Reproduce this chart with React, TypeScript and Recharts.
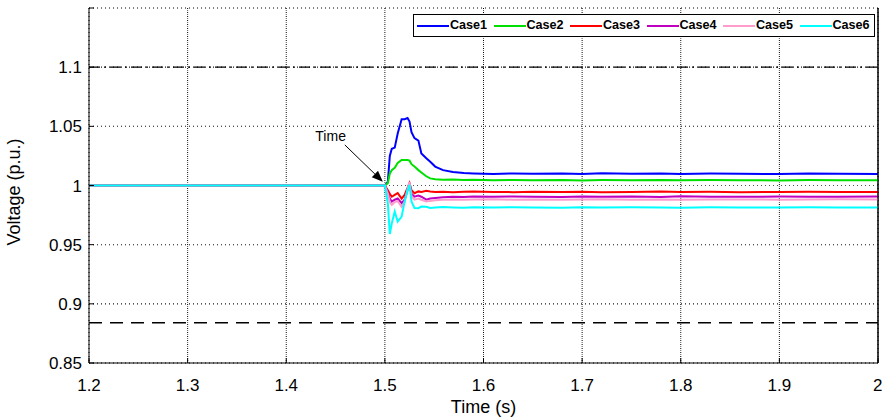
import {
  LineChart,
  Line,
  XAxis,
  YAxis,
  CartesianGrid,
  ReferenceLine,
  ReferenceDot,
} from "recharts";

const time = [
  1.2, 1.23, 1.26, 1.3, 1.33, 1.36, 1.4, 1.43, 1.46, 1.49, 1.5, 1.503, 1.505,
  1.507, 1.51, 1.513, 1.517, 1.52, 1.523, 1.525, 1.527, 1.53, 1.534, 1.537,
  1.542, 1.546, 1.551, 1.559, 1.569, 1.58, 1.59, 1.61, 1.63, 1.65, 1.68, 1.7,
  1.72, 1.75, 1.78, 1.8, 1.83, 1.86, 1.9, 1.93, 1.96, 2.0,
];

const case1 = [
  1.0, 1.0003, 1.0, 1.0002, 0.9999, 1.0002, 1.0, 1.0002, 1.0001, 1.0003, 1.0,
  1.003, 1.025, 1.031, 1.032, 1.044, 1.056, 1.056, 1.057, 1.054, 1.045, 1.04,
  1.038, 1.027, 1.023, 1.02, 1.016, 1.013, 1.0115, 1.0105, 1.0102, 1.0098,
  1.0102, 1.0099, 1.0101, 1.0097, 1.0103, 1.0099, 1.0101, 1.0098, 1.0101,
  1.0099, 1.0097, 1.0101, 1.0099, 1.0098,
];

const case2 = [
  1.0, 0.9999, 1.0002, 1.0, 1.0003, 1.0, 0.9999, 1.0002, 1.0, 1.0001, 1.0,
  1.002, 1.01, 1.013, 1.015, 1.019, 1.0215, 1.0216, 1.0216, 1.021, 1.018,
  1.016, 1.013, 1.011, 1.0078, 1.006, 1.0052, 1.0048, 1.005, 1.0046, 1.0048,
  1.0045, 1.0047, 1.0044, 1.0046, 1.0043, 1.0046, 1.0045, 1.0047, 1.0044,
  1.0046, 1.0045, 1.0043, 1.0046, 1.0044, 1.0045,
];

const case3 = [
  1.0, 1.0001, 0.9999, 1.0001, 1.0, 0.9999, 1.0001, 1.0, 1.0, 1.0001, 1.0,
  0.996, 0.993, 0.9905, 0.992, 0.9935, 0.989, 0.992, 0.998, 1.002, 0.996,
  0.9935, 0.995, 0.9945, 0.9955, 0.995, 0.9945, 0.9948, 0.9943, 0.9947, 0.995,
  0.9946, 0.9944, 0.9947, 0.9945, 0.9948, 0.9944, 0.9946, 0.9949, 0.9945,
  0.9947, 0.9944, 0.9946, 0.9948, 0.9945, 0.9946,
];

const case4 = [
  1.0, 1.0, 1.0001, 0.9999, 1.0, 1.0001, 1.0, 0.9999, 1.0001, 1.0, 1.0, 0.994,
  0.989, 0.9864, 0.988, 0.989, 0.985, 0.988, 0.996, 1.002, 0.993, 0.9906,
  0.9915, 0.9905, 0.988, 0.989, 0.9895, 0.99, 0.9905, 0.9903, 0.9906, 0.9904,
  0.9907, 0.9905, 0.9903, 0.9906, 0.9904, 0.9907, 0.9903, 0.9909, 0.9905,
  0.9904, 0.9906, 0.9905, 0.9904, 0.9906,
];

const case5 = [
  1.0, 1.0001, 1.0, 1.0, 0.9999, 1.0, 1.0001, 1.0, 0.9999, 1.0, 1.0, 0.993,
  0.986, 0.9836, 0.986, 0.987, 0.982, 0.986, 0.997, 1.003, 0.991, 0.988,
  0.989, 0.988, 0.9865, 0.987, 0.9875, 0.988, 0.9882, 0.9879, 0.9881, 0.9883,
  0.988, 0.9882, 0.9879, 0.9881, 0.9883, 0.988, 0.9882, 0.9879, 0.9881,
  0.9882, 0.988, 0.9881, 0.9883, 0.9881,
];

const case6 = [
  1.0, 1.0, 1.0001, 1.0, 1.0, 0.9999, 1.0, 1.0001, 1.0, 1.0, 1.0, 0.985,
  0.959, 0.968, 0.978, 0.9694, 0.9737, 0.9864, 0.996, 1.0005, 0.9864, 0.981,
  0.9808, 0.9822, 0.982, 0.981, 0.9815, 0.9818, 0.9815, 0.9813, 0.9816,
  0.9814, 0.9817, 0.9815, 0.9813, 0.9816, 0.9814, 0.9816, 0.9815, 0.9813,
  0.9816, 0.9814, 0.9815, 0.9817, 0.9814, 0.9815,
];

const seriesNames = ["Case1", "Case2", "Case3", "Case4", "Case5", "Case6"];
const seriesValues = [case1, case2, case3, case4, case5, case6];
const COLORS = ["#0000ff", "#00e000", "#ff0000", "#c000c0", "#ff9ccc", "#00ffff"];

const xTicks = [1.2, 1.3, 1.4, 1.5, 1.6, 1.7, 1.8, 1.9, 2.0];
const yTicks = [0.85, 0.9, 0.95, 1.0, 1.05, 1.1, 1.15];

const upperLimit = 1.1;
const lowerLimit = 0.884;

const data = time.map((t, i) => {
  const row: any = { t };
  seriesNames.forEach((n, k) => {
    row[n] = seriesValues[k][i];
  });
  return row;
});

const FONT = "'Liberation Sans', Arial, sans-serif";

const ArrowShape = (props: any) => {
  const { x1, y1, x2, y2 } = props;
  const ang = Math.atan2(y2 - y1, x2 - x1);
  const len = 11;
  const w = 4.5;
  const bx = x2 - len * Math.cos(ang);
  const by = y2 - len * Math.sin(ang);
  const px = -Math.sin(ang) * w;
  const py = Math.cos(ang) * w;
  return (
    <g>
      <line x1={x1} y1={y1} x2={bx} y2={by} stroke="#000" strokeWidth={1} />
      <polygon
        points={`${x2},${y2} ${bx + px},${by + py} ${bx - px},${by - py}`}
        fill="#000"
      />
    </g>
  );
};

export default function App() {
  return (
    <div style={{ position: "absolute", left: 0, top: 0, width: 882, height: 418, fontFamily: FONT }}>
      <LineChart
        width={882}
        height={418}
        data={data}
        margin={{ top: 8, right: 3, bottom: 0, left: 0 }}
      >
        <XAxis
          dataKey="t"
          type="number"
          domain={[1.2, 2]}
          ticks={xTicks}
          allowDataOverflow
          height={55}
          stroke="#000"
          tickSize={-5}
          tickMargin={21}
          tick={{ fill: "#000", fontSize: 17, fontFamily: FONT }}
          tickFormatter={(v: number) => String(Math.round(v * 10) / 10)}
          label={{
            value: "Time (s)",
            position: "insideBottom",
            offset: 5,
            fill: "#000",
            fontSize: 18,
            fontFamily: FONT,
          }}
        />
        <XAxis
          xAxisId="top"
          dataKey="t"
          type="number"
          orientation="top"
          domain={[1.2, 2]}
          ticks={xTicks}
          height={0}
          stroke="#000"
          tickSize={-5}
          tickFormatter={() => ""}
        />
        <YAxis
          type="number"
          domain={[0.85, 1.15]}
          ticks={yTicks}
          allowDataOverflow
          width={89}
          stroke="#000"
          tickSize={-5}
          tickMargin={12}
          tick={{ fill: "#000", fontSize: 17, fontFamily: FONT }}
          tickFormatter={(v: number) => (v > 1.12 ? "" : String(Number(v.toFixed(2))))}
          label={{
            value: "Voltage (p.u.)",
            angle: -90,
            position: "insideLeft",
            offset: 14,
            dy: 60,
            fill: "#000",
            fontSize: 18,
            fontFamily: FONT,
          }}
        />
        <YAxis
          yAxisId="right"
          orientation="right"
          type="number"
          domain={[0.85, 1.15]}
          ticks={yTicks}
          width={1}
          stroke="#000"
          tickSize={-5}
          tickFormatter={() => ""}
        />
        <CartesianGrid stroke="#000" strokeWidth={1} strokeDasharray="1 3" />
        {xTicks.slice(1, -1).map((t) => (
          <ReferenceLine key={"gx" + t} x={t} stroke="#555" strokeDasharray="1 3" />
        ))}
        {yTicks.slice(1, -1).map((v) => (
          <ReferenceLine key={"gy" + v} y={v} stroke="#555" strokeDasharray="1 3" />
        ))}
        <ReferenceLine x={2} stroke="#000" />
        <ReferenceLine
          y={upperLimit}
          stroke="#000"
          strokeWidth={1.3}
          strokeDasharray="11 4 2 4"
        />
        <ReferenceLine
          y={lowerLimit}
          stroke="#000"
          strokeWidth={1.3}
          strokeDasharray="13 8"
        />
        {seriesNames.map((n, i) => (
          <Line
            key={n}
            dataKey={n}
            stroke={COLORS[i]}
            strokeWidth={2}
            dot={false}
            type="linear"
            isAnimationActive={false}
          />
        ))}
        <ReferenceLine
          segment={[
            { x: 1.4594, y: 1.0343 },
            { x: 1.4979, y: 1.0032 },
          ]}
          shape={ArrowShape}
        />
        <ReferenceDot
          x={1.445}
          y={1.042}
          r={0}
          fill="none"
          stroke="none"
          label={{
            value: "Time",
            position: "center",
            fill: "#000",
            fontSize: 14,
            fontFamily: FONT,
          }}
        />
      </LineChart>
      <div
        style={{
          position: "absolute",
          left: 413,
          top: 14,
          width: 462,
          height: 23,
          border: "1px solid #000",
          background: "#fff",
          boxSizing: "border-box",
          fontFamily: FONT,
          fontWeight: "bold",
          fontSize: 12.6,
        }}
      >
        {seriesNames.map((n, i) => (
          <div
            key={n}
            style={{ position: "absolute", left: 3 + i * 76.5, top: 0, height: 21, width: 76 }}
          >
            <div
              style={{ position: "absolute", left: 0, top: 10, width: 32, height: 2, background: COLORS[i] }}
            />
            <span style={{ position: "absolute", left: 33, top: 3, lineHeight: "15px", whiteSpace: "nowrap" }}>
              {n}
            </span>
          </div>
        ))}
      </div>
    </div>
  );
}
